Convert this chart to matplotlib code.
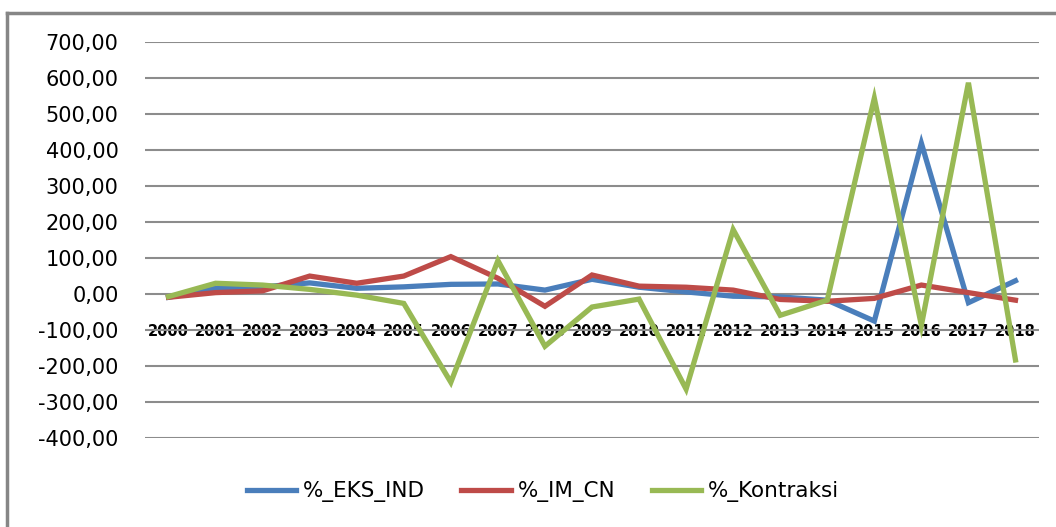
import matplotlib.pyplot as plt
from matplotlib.lines import Line2D
from matplotlib.ticker import FuncFormatter, MultipleLocator

years = [str(y) for y in range(2000, 2019)]
eks_ind = [-10, 15, 19, 30, 15, 19, 26, 27, 10, 40, 18, 5, -7, -9, -18, -76, 418, -25, 36]
im_cn = [-10, 3, 8, 49, 29, 49, 103, 43, -35, 52, 21, 18, 10, -16, -21, -13, 24, 3, -18]
kontraksi = [-8, 29, 24, 12, -4, -27, -246, 92, -146, -37, -15, -265, 178, -60, -18, 543, -88, 586, -184]

fig = plt.figure(figsize=(10.56, 5.27), dpi=100)
ax = fig.add_axes([145/1056, 1 - 437.7/527, (1039 - 145)/1056, (437.7 - 41.7)/527])

x = list(range(len(years)))
ax.plot(x, eks_ind, color='#4A7EBB', lw=3.8, label='%_EKS_IND', solid_joinstyle='miter')
ax.plot(x, im_cn, color='#BE4B48', lw=3.8, label='%_IM_CN', solid_joinstyle='miter')
ax.plot(x, kontraksi, color='#98B954', lw=3.8, label='%_Kontraksi', solid_joinstyle='miter')

ax.set_xlim(-0.5, len(years) - 0.5)
ax.set_ylim(-400, 700)
ax.yaxis.set_major_locator(MultipleLocator(100))
ax.yaxis.set_major_formatter(FuncFormatter(lambda v, p: ('%.2f' % v).replace('.', ',')))
ax.grid(axis='y', color='#8C8C8C', lw=1.5)
ax.set_axisbelow(True)
for s in ['top', 'right', 'left']:
    ax.spines[s].set_visible(False)
ax.spines['bottom'].set_position(('data', 0))
ax.spines['bottom'].set_visible(False)

ax.set_xticks(x)
ax.set_xticklabels(years, fontsize=10.5, fontweight='bold')
ax.tick_params(axis='x', length=0, pad=22)
ax.tick_params(axis='y', length=0, pad=19, labelsize=15)

fig.legend(loc='center', bbox_to_anchor=(0.514, 1 - 492/527), ncol=3, frameon=False,
           fontsize=15.5, handlelength=2.3, handletextpad=0.3, columnspacing=1.7)

# outer chart frame
fig.add_artist(Line2D([7/1056, 1], [1 - 13/527, 1 - 13/527], color='#868686', lw=2.5))
fig.add_artist(Line2D([7/1056, 7/1056], [0, 1 - 13/527], color='#868686', lw=2.5))

fig.savefig('out.png', dpi=100)
